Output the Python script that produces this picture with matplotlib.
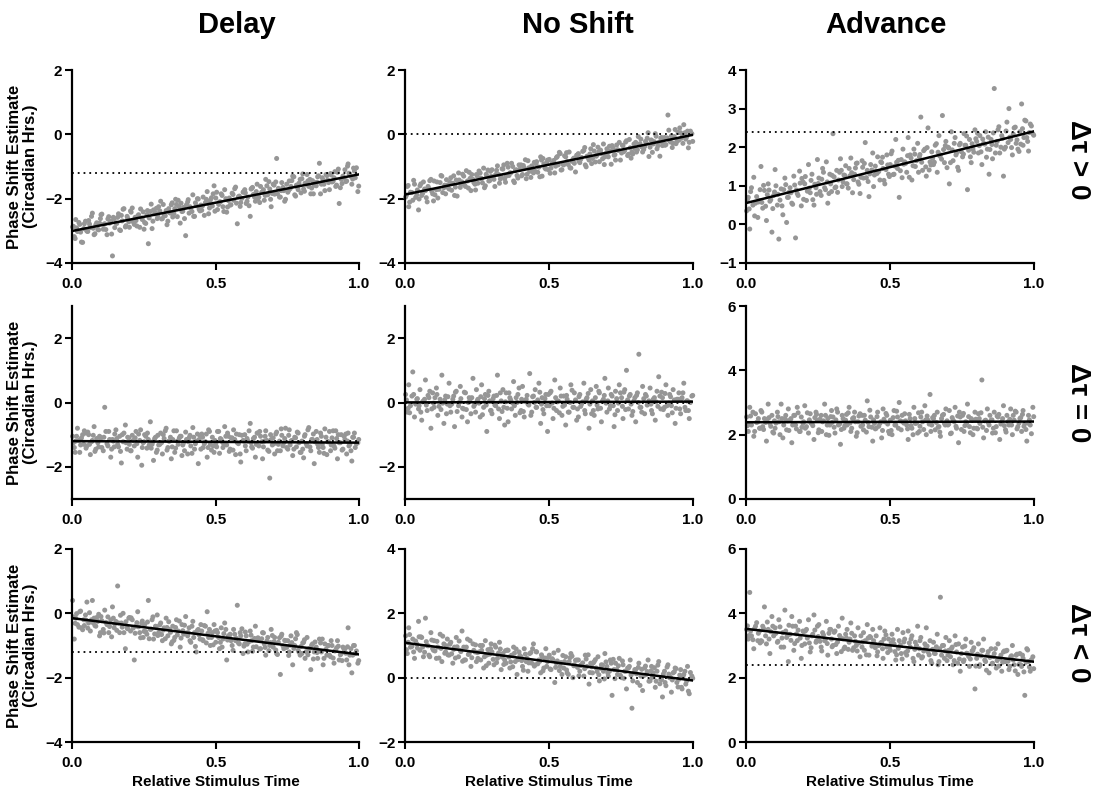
import numpy as np
import matplotlib
matplotlib.use("Agg")
import matplotlib.pyplot as plt

plt.rcParams['font.family'] = ['Liberation Sans', 'DejaVu Sans']
plt.rcParams['font.weight'] = 'bold'

col_titles = ["Delay", "No Shift", "Advance"]
row_labels = ["Δτ > 0", "Δτ = 0", "Δτ < 0"]
x_label = "Relative Stimulus Time"
y_label = "Phase Shift Estimate\n(Circadian Hrs.)"
x_ticks = [0.0, 0.5, 1.0]
x_ticklabels = ["0.0", "0.5", "1.0"]

# reference (no-change) level for each column
ref_levels = [-1.2, 0.0, 2.4]

# y-axis limits and ticks per panel (row, col)
y_limits = [[(-4, 2), (-4, 2), (-1, 4)],
            [(-3, 3), (-3, 3), (0, 6)],
            [(-4, 2), (-2, 4), (0, 6)]]
y_ticks = [[[-4, -2, 0, 2], [-4, -2, 0, 2], [-1, 0, 1, 2, 3, 4]],
           [[-2, 0, 2], [-2, 0, 2], [0, 2, 4, 6]],
           [[-4, -2, 0, 2], [-2, 0, 2, 4], [0, 2, 4, 6]]]

# relative stimulus times, first batch
x_time_a = [
    0.002, 0.008, 0.013, 0.019, 0.027, 0.033, 0.041, 0.047,
    0.052, 0.058, 0.064, 0.071, 0.077, 0.083, 0.090, 0.096,
    0.101, 0.109, 0.114, 0.122, 0.128, 0.135, 0.141, 0.147,
    0.153, 0.159, 0.166, 0.172, 0.178, 0.186, 0.192, 0.198,
    0.204, 0.210, 0.217, 0.223, 0.229, 0.236, 0.243, 0.248,
    0.253, 0.261, 0.266, 0.273, 0.279, 0.284, 0.291, 0.297,
    0.302, 0.309, 0.315, 0.321, 0.328, 0.334, 0.340, 0.346,
    0.351, 0.358, 0.364, 0.370, 0.377, 0.383, 0.389, 0.396,
    0.403, 0.408, 0.414, 0.421, 0.427, 0.433, 0.440, 0.446,
    0.452, 0.457, 0.465, 0.471, 0.476, 0.482, 0.489, 0.495,
    0.501, 0.507, 0.514, 0.520, 0.526, 0.532, 0.539, 0.545,
    0.551, 0.558, 0.563, 0.570, 0.576, 0.583, 0.588, 0.596,
    0.602, 0.607, 0.613, 0.621, 0.626, 0.632, 0.639, 0.645,
    0.651, 0.657, 0.664, 0.670, 0.675, 0.682, 0.689, 0.694,
    0.701, 0.706, 0.713, 0.719, 0.726, 0.731, 0.738, 0.744,
    0.752, 0.757, 0.763, 0.769, 0.776, 0.782, 0.788, 0.795,
    0.801, 0.807, 0.812, 0.819, 0.825, 0.832, 0.838, 0.844,
    0.851, 0.856, 0.862, 0.869, 0.875, 0.881, 0.888, 0.894,
    0.901, 0.906, 0.913, 0.919, 0.925, 0.931, 0.938, 0.944,
    0.951, 0.957, 0.962, 0.968, 0.975, 0.981, 0.987, 0.996]

# relative stimulus times, second batch
x_time_b = [
    0.005, 0.011, 0.016, 0.024, 0.030, 0.037, 0.043, 0.049,
    0.055, 0.061, 0.068, 0.074, 0.080, 0.086, 0.093, 0.099,
    0.104, 0.111, 0.118, 0.125, 0.131, 0.138, 0.144, 0.149,
    0.156, 0.162, 0.169, 0.175, 0.181, 0.188, 0.194, 0.200,
    0.206, 0.213, 0.220, 0.226, 0.232, 0.239, 0.245, 0.251,
    0.257, 0.263, 0.269, 0.276, 0.282, 0.288, 0.294, 0.299,
    0.306, 0.312, 0.318, 0.325, 0.331, 0.337, 0.343, 0.349,
    0.355, 0.361, 0.367, 0.374, 0.380, 0.386, 0.392, 0.399,
    0.405, 0.411, 0.418, 0.424, 0.430, 0.437, 0.443, 0.449,
    0.455, 0.461, 0.468, 0.474, 0.479, 0.486, 0.492, 0.498,
    0.504, 0.511, 0.517, 0.523, 0.529, 0.536, 0.542, 0.548,
    0.554, 0.561, 0.567, 0.573, 0.580, 0.586, 0.592, 0.599,
    0.604, 0.610, 0.617, 0.624, 0.629, 0.636, 0.642, 0.648,
    0.654, 0.661, 0.667, 0.673, 0.679, 0.686, 0.692, 0.698,
    0.704, 0.710, 0.716, 0.723, 0.729, 0.735, 0.741, 0.748,
    0.755, 0.760, 0.766, 0.773, 0.779, 0.785, 0.791, 0.798,
    0.804, 0.810, 0.816, 0.822, 0.829, 0.835, 0.841, 0.847,
    0.854, 0.859, 0.866, 0.872, 0.878, 0.885, 0.891, 0.897,
    0.903, 0.910, 0.916, 0.922, 0.928, 0.935, 0.941, 0.948,
    0.954, 0.960, 0.965, 0.972, 0.978, 0.984, 0.991, 0.999]

# ---------------- Δτ > 0 ----------------
delay_pos_a = [
    -2.88, -3.18, -2.65, -3.02, -2.80, -3.35, -2.93, -2.70,
    -3.01, -2.68, -2.90, -2.45, -3.12, -2.81, -2.96, -2.76,
    -2.50, -2.95, -2.78, -3.12, -2.56, -2.70, -3.78, -2.62,
    -2.75, -2.58, -2.97, -2.52, -2.33, -2.88, -2.55, -2.72,
    -2.38, -2.29, -2.80, -2.68, -2.54, -2.89, -2.60, -2.41,
    -2.74, -2.50, -3.40, -2.40, -2.93, -2.35, -2.44, -2.62,
    -2.25, -2.08, -2.62, -2.51, -2.37, -2.70, -2.43, -2.19,
    -2.57, -2.31, -2.18, -2.05, -2.76, -2.40, -2.27, -3.15,
    -2.10, -2.45, -2.30, -1.88, -2.55, -2.22, -2.01, -2.38,
    -2.36, -1.95, -2.12, -1.78, -2.47, -2.05, -2.23, -1.60,
    -1.98, -2.34, -2.10, -1.85, -2.25, -1.72, -2.42, -2.06,
    -2.20, -1.83, -2.05, -1.64, -2.78, -1.92, -2.12, -1.80,
    -1.72, -2.15, -1.95, -2.55, -1.68, -1.87, -2.08, -1.55,
    -1.95, -1.62, -1.80, -2.05, -1.40, -1.88, -1.70, -2.25,
    -1.55, -1.86, -0.75, -1.68, -1.95, -1.50, -1.75, -2.02,
    -1.80, -1.45, -1.62, -1.30, -1.88, -1.58, -1.72, -1.40,
    -1.38, -1.70, -1.52, -1.25, -1.62, -1.85, -1.44, -1.58,
    -1.60, -1.32, -0.90, -1.55, -1.42, -1.75, -1.28, -1.50,
    -1.22, -1.48, -1.35, -1.62, -1.18, -2.15, -1.40, -1.30,
    -1.10, -1.45, -0.92, -1.25, -1.55, -1.05, -1.35, -1.78]
delay_pos_b = [
    -2.86, -3.24, -2.91, -2.74, -3.04, -3.36, -2.78, -2.96,
    -3.02, -2.79, -2.55, -2.92, -3.09, -2.75, -2.97, -2.62,
    -2.48, -2.80, -2.96, -2.63, -2.76, -3.10, -2.58, -2.90,
    -2.77, -2.47, -2.99, -2.69, -2.31, -2.84, -2.61, -2.89,
    -2.42, -2.72, -2.58, -2.85, -2.50, -2.32, -2.65, -2.95,
    -2.77, -2.37, -2.60, -2.17, -2.70, -2.47, -2.30, -2.54,
    -2.38, -2.63, -2.18, -2.53, -2.81, -2.31, -2.45, -2.13,
    -2.46, -2.02, -2.56, -2.26, -2.14, -2.39, -2.62, -2.19,
    -2.03, -2.25, -2.40, -2.55, -2.13, -2.00, -2.33, -2.20,
    -2.22, -2.52, -2.02, -2.15, -2.29, -1.97, -1.85, -2.39,
    -1.80, -2.18, -2.10, -1.90, -2.40, -2.00, -2.26, -1.98,
    -2.19, -1.87, -1.69, -2.14, -1.94, -2.24, -1.99, -1.77,
    -1.82, -2.08, -2.22, -1.70, -1.65, -1.95, -1.78, -2.00,
    -2.12, -1.80, -1.72, -1.90, -1.60, -1.47, -2.02, -1.84,
    -1.58, -1.48, -1.85, -1.95, -1.75, -1.65, -2.08, -1.55,
    -1.74, -1.69, -1.44, -1.32, -1.92, -1.64, -1.52, -1.82,
    -1.23, -1.77, -1.55, -1.45, -1.40, -1.67, -1.85, -1.50,
    -1.49, -1.29, -1.85, -1.35, -1.55, -1.25, -1.42, -1.72,
    -1.26, -1.46, -1.16, -1.58, -1.08, -1.66, -1.53, -1.36,
    -1.47, -0.99, -1.21, -1.31, -1.39, -1.14, -1.04, -1.61]

noshift_pos_a = [
    -1.95, -1.62, -2.25, -1.80, -2.05, -1.55, -1.88, -2.35,
    -1.60, -1.90, -1.48, -1.75, -2.10, -1.68, -1.40, -1.85,
    -1.45, -1.72, -1.98, -1.50, -1.30, -1.66, -1.85, -1.58,
    -1.70, -1.35, -1.52, -1.90, -1.42, -1.20, -1.65, -1.48,
    -1.30, -1.62, -1.45, -1.18, -1.75, -1.40, -1.55, -1.25,
    -1.52, -1.20, -1.38, -1.05, -1.60, -1.30, -1.45, -1.15,
    -1.10, -1.40, -1.25, -0.98, -1.52, -1.32, -1.08, -1.38,
    -1.30, -1.02, -1.20, -0.90, -1.45, -1.12, -1.28, -0.95,
    -0.95, -1.25, -1.05, -1.38, -0.82, -1.15, -0.98, -1.20,
    -1.15, -0.85, -1.02, -0.70, -1.30, -0.92, -1.08, -0.80,
    -0.78, -1.05, -0.90, -1.20, -0.72, -0.95, -0.60, -1.10,
    -0.95, -0.70, -0.85, -0.55, -1.05, -0.78, -0.90, -0.65,
    -0.60, -0.88, -0.72, -0.50, -0.95, -0.68, -0.80, -0.45,
    -0.75, -0.52, -0.68, -0.40, -0.85, -0.60, -0.30, -0.70,
    -0.45, -0.70, -0.52, -0.35, -0.65, -0.80, -0.48, -0.25,
    -0.58, -0.35, -0.50, -0.20, -0.62, -0.42, -0.55, -0.30,
    -0.25, -0.48, -0.32, -0.15, -0.55, -0.38, -0.28, 0.05,
    -0.40, -0.18, -0.30, 0.02, -0.45, -0.25, -0.12, -0.35,
    -0.10, -0.32, 0.60, -0.20, -0.05, -0.28, 0.15, -0.22,
    -0.18, 0.05, -0.08, 0.30, -0.15, 0.10, -0.25, 0.02]
noshift_pos_b = [
    -1.89, -1.59, -2.11, -1.81, -1.43, -1.96, -1.73, -2.01,
    -1.54, -1.84, -1.70, -1.97, -1.62, -1.44, -1.77, -2.07,
    -1.88, -1.48, -1.71, -1.28, -1.81, -1.58, -1.41, -1.65,
    -1.49, -1.74, -1.29, -1.64, -1.92, -1.42, -1.56, -1.24,
    -1.57, -1.13, -1.67, -1.37, -1.25, -1.50, -1.73, -1.30,
    -1.14, -1.36, -1.51, -1.66, -1.24, -1.11, -1.44, -1.31,
    -1.32, -1.62, -1.12, -1.25, -1.39, -1.07, -0.95, -1.49,
    -0.90, -1.28, -1.20, -1.00, -1.50, -1.10, -1.36, -1.08,
    -1.29, -0.97, -0.79, -1.24, -1.04, -1.34, -1.09, -0.87,
    -0.92, -1.18, -1.32, -0.80, -0.75, -1.05, -0.88, -1.10,
    -1.21, -0.89, -0.81, -0.99, -0.69, -0.56, -1.11, -0.93,
    -0.67, -0.57, -0.94, -1.04, -0.84, -0.74, -1.17, -0.64,
    -0.83, -0.78, -0.53, -0.41, -1.01, -0.73, -0.61, -0.91,
    -0.32, -0.86, -0.64, -0.54, -0.49, -0.76, -0.94, -0.59,
    -0.57, -0.37, -0.93, -0.43, -0.63, -0.33, -0.50, -0.80,
    -0.34, -0.54, -0.24, -0.66, -0.16, -0.74, -0.61, -0.44,
    -0.55, -0.07, -0.29, -0.39, -0.47, -0.22, -0.12, -0.69,
    -0.18, -0.56, -0.23, -0.06, -0.36, -0.68, -0.10, -0.28,
    -0.34, -0.11, 0.13, -0.24, -0.41, -0.07, -0.29, 0.06,
    0.20, -0.12, -0.28, 0.05, -0.08, -0.42, 0.10, -0.22]

advance_pos_a = [
    0.35, 0.70, -0.12, 0.95, 1.22, 0.55, 0.18, 0.62,
    1.50, 0.42, 0.88, 0.10, 1.05, 0.60, -0.20, 0.75,
    1.42, 0.50, -0.38, 0.92, 0.25, 1.20, 0.05, 0.70,
    0.95, 0.55, 1.25, -0.35, 0.80, 1.38, 0.48, 1.10,
    1.05, 0.62, 1.55, 0.82, 1.30, 0.50, 0.95, 1.68,
    1.20, 0.75, 1.45, 0.95, 1.62, 0.55, 1.30, 0.85,
    2.35, 0.95, 1.40, 1.15, 1.70, 0.98, 1.28, 1.52,
    1.05, 1.45, 1.72, 0.82, 1.30, 1.58, 1.10, 0.80,
    1.65, 1.20, 2.12, 1.40, 0.72, 1.55, 1.85, 1.28,
    1.38, 1.75, 1.15, 1.60, 1.45, 1.05, 1.80, 1.30,
    1.55, 1.90, 1.30, 2.20, 1.45, 0.70, 1.68, 1.95,
    1.62, 1.35, 2.25, 1.80, 1.15, 1.95, 1.50, 2.10,
    1.75, 2.78, 1.40, 1.95, 1.25, 2.50, 1.62, 1.88,
    1.55, 2.05, 1.35, 2.30, 1.80, 2.82, 1.60, 2.15,
    2.00, 1.05, 2.40, 1.65, 2.25, 1.85, 1.40, 2.10,
    1.75, 2.35, 2.05, 0.90, 2.20, 1.60, 1.95, 2.45,
    2.15, 1.85, 2.30, 1.55, 2.10, 2.40, 1.95, 1.30,
    2.20, 1.70, 3.52, 2.05, 2.45, 1.85, 2.30, 1.25,
    2.00, 2.65, 3.00, 2.20, 1.80, 2.50, 2.10, 1.95,
    2.40, 3.12, 2.05, 2.70, 2.25, 1.90, 2.60, 2.35]
advance_pos_b = [
    0.65, 0.40, 0.85, 0.50, 0.22, 0.72, 0.58, 0.90,
    0.57, 1.01, 0.47, 0.77, 0.89, 0.64, 0.41, 0.84,
    1.00, 0.78, 0.63, 0.48, 0.90, 1.03, 0.70, 0.83,
    0.82, 0.52, 1.02, 0.89, 0.75, 1.07, 1.19, 0.65,
    1.24, 0.86, 0.94, 1.14, 0.64, 1.04, 0.78, 1.06,
    0.85, 1.17, 1.35, 0.90, 1.10, 0.80, 1.05, 1.27,
    1.23, 0.97, 0.83, 1.35, 1.40, 1.10, 1.27, 1.05,
    0.94, 1.26, 1.34, 1.16, 1.46, 1.59, 1.04, 1.22,
    1.48, 1.58, 1.21, 1.11, 1.31, 1.41, 0.98, 1.51,
    1.32, 1.37, 1.62, 1.74, 1.14, 1.42, 1.54, 1.24,
    1.83, 1.29, 1.51, 1.61, 1.66, 1.39, 1.21, 1.56,
    1.58, 1.78, 1.22, 1.72, 1.52, 1.82, 1.65, 1.35,
    1.81, 1.61, 1.91, 1.49, 1.99, 1.41, 1.54, 1.71,
    1.61, 2.09, 1.87, 1.77, 1.69, 1.94, 2.04, 1.47,
    1.98, 1.60, 1.93, 2.10, 1.80, 1.48, 2.06, 1.88,
    1.82, 2.05, 2.29, 1.92, 1.75, 2.09, 1.87, 2.22,
    2.36, 2.04, 1.88, 2.21, 2.08, 1.74, 2.26, 1.94,
    2.07, 2.37, 1.85, 2.15, 2.53, 2.00, 2.23, 1.95,
    2.42, 2.12, 2.26, 1.99, 2.34, 2.52, 2.19, 1.89,
    2.08, 2.48, 2.25, 2.68, 2.15, 2.38, 2.55, 2.31]

# ---------------- Δτ = 0 ----------------
delay_zero_a = [
    -1.05, -1.40, -1.20, -0.80, -1.55, -1.10, -1.30, -0.95,
    -1.35, -1.00, -1.62, -1.18, -0.75, -1.45, -1.25, -1.05,
    -1.10, -1.50, -0.15, -1.28, -0.90, -1.70, -1.15, -1.38,
    -0.85, -1.30, -1.05, -1.88, -1.22, -0.70, -1.45, -1.10,
    -1.50, -1.02, -1.35, -0.90, -1.70, -1.18, -1.95, -1.25,
    -1.00, -1.42, -1.15, -0.60, -1.30, -1.80, -1.08, -1.48,
    -1.32, -0.95, -1.60, -1.12, -0.80, -1.40, -1.20, -1.75,
    -1.15, -1.55, -0.88, -1.30, -1.05, -1.65, -1.25, -0.92,
    -1.60, -1.10, -1.35, -0.78, -1.45, -1.20, -1.90, -1.02,
    -0.98, -1.40, -1.22, -1.70, -0.85, -1.30, -1.08, -1.55,
    -1.28, -0.90, -1.58, -1.15, -1.40, -0.75, -1.32, -1.05,
    -1.45, -1.10, -0.85, -1.62, -1.25, -1.00, -1.85, -1.18,
    -1.00, -1.50, -1.20, -0.65, -1.38, -1.12, -1.70, -0.95,
    -1.35, -1.05, -1.75, -1.20, -0.88, -1.48, -2.35, -1.15,
    -1.10, -1.60, -0.92, -1.30, -1.50, -1.02, -1.25, -0.80,
    -1.45, -0.85, -1.20, -1.65, -1.08, -1.38, -0.95, -1.55,
    -1.20, -1.72, -1.00, -1.35, -0.78, -1.50, -1.15, -1.90,
    -0.90, -1.30, -1.55, -1.05, -1.40, -0.82, -1.62, -1.22,
    -1.50, -1.10, -1.35, -0.88, -1.75, -1.25, -1.00, -1.45,
    -1.15, -1.60, -0.95, -1.30, -1.82, -1.08, -1.40, -1.25]
delay_zero_b = [
    -1.25, -1.55, -1.05, -1.18, -1.32, -1.00, -0.88, -1.42,
    -0.92, -1.30, -1.22, -1.02, -1.52, -1.12, -1.38, -1.10,
    -1.40, -1.08, -0.90, -1.35, -1.15, -1.45, -1.20, -0.98,
    -1.12, -1.38, -1.52, -1.00, -0.95, -1.25, -1.08, -1.30,
    -1.50, -1.18, -1.10, -1.28, -0.98, -0.85, -1.40, -1.22,
    -1.05, -0.95, -1.32, -1.42, -1.22, -1.12, -1.55, -1.02,
    -1.30, -1.25, -1.00, -0.88, -1.48, -1.20, -1.08, -1.38,
    -0.88, -1.42, -1.20, -1.10, -1.05, -1.32, -1.50, -1.15,
    -1.22, -1.02, -1.58, -1.08, -1.28, -0.98, -1.15, -1.45,
    -1.08, -1.28, -0.98, -1.40, -0.90, -1.48, -1.35, -1.18,
    -1.38, -0.90, -1.12, -1.22, -1.30, -1.05, -0.95, -1.52,
    -1.10, -1.48, -1.15, -0.98, -1.28, -1.60, -1.02, -1.20,
    -1.35, -1.12, -0.88, -1.25, -1.42, -1.08, -1.30, -0.95,
    -0.90, -1.22, -1.38, -1.05, -1.18, -1.52, -1.00, -1.32,
    -1.28, -0.98, -1.50, -1.20, -0.82, -1.35, -1.12, -1.40,
    -1.02, -1.32, -1.18, -1.45, -1.10, -0.92, -1.25, -1.55,
    -1.45, -1.05, -1.28, -0.85, -1.38, -1.15, -0.98, -1.22,
    -1.15, -1.40, -0.95, -1.30, -1.58, -1.08, -1.22, -0.90,
    -1.32, -0.88, -1.42, -1.12, -1.00, -1.25, -1.48, -1.05,
    -0.98, -1.20, -1.35, -1.50, -1.08, -0.95, -1.28, -1.15]

noshift_zero_a = [
    0.25, -0.30, 0.55, -0.10, 0.95, -0.45, 0.10, -0.20,
    0.40, -0.55, 0.05, 0.70, -0.25, 0.15, -0.80, 0.30,
    -0.15, 0.45, -0.40, 0.10, 0.85, -0.65, 0.20, -0.05,
    0.60, -0.30, 0.10, -0.75, 0.35, -0.10, 0.50, -0.45,
    -0.20, 0.30, -0.60, 0.15, -0.35, 0.75, -0.05, 0.40,
    0.10, -0.45, 0.55, -0.15, 0.25, -0.90, 0.35, -0.25,
    -0.35, 0.20, -0.10, 0.85, -0.50, 0.05, 0.40, -0.70,
    0.30, -0.60, 0.15, -0.20, 0.65, -0.40, 0.00, 0.45,
    -0.25, 0.50, -0.45, 0.10, -0.05, 0.90, -0.30, 0.20,
    0.40, -0.15, 0.60, -0.65, 0.15, -0.35, 0.25, -0.90,
    -0.10, 0.35, -0.50, 0.70, -0.25, 0.05, 0.45, -0.40,
    0.20, -0.70, 0.10, -0.30, 0.55, -0.15, 0.30, -0.55,
    -0.45, 0.25, -0.05, 0.60, -0.35, 0.15, -0.80, 0.40,
    0.05, -0.40, 0.50, -0.20, 0.30, -0.60, 0.10, 0.75,
    -0.30, 0.45, -0.10, 0.20, -0.75, 0.35, -0.25, 0.55,
    0.15, -0.50, 0.40, 1.00, -0.20, 0.25, -0.40, 0.05,
    -0.60, 0.30, 1.50, -0.15, 0.50, -0.35, 0.20, -0.05,
    0.45, -0.25, 0.10, -0.55, 0.35, 0.80, -0.20, 0.15,
    -0.15, 0.55, -0.40, 0.25, -0.10, 0.40, -0.65, 0.10,
    0.30, -0.35, 0.15, 0.60, -0.25, 0.05, -0.50, 0.20]
noshift_zero_b = [
    0.08, -0.18, -0.32, 0.20, 0.25, -0.05, 0.12, -0.10,
    -0.30, 0.02, 0.10, -0.08, 0.22, 0.35, -0.20, -0.02,
    0.15, 0.25, -0.12, -0.22, -0.02, 0.08, -0.35, 0.18,
    -0.10, -0.05, 0.20, 0.32, -0.28, 0.00, 0.12, -0.18,
    0.32, -0.22, 0.00, 0.10, 0.15, -0.12, -0.30, 0.05,
    -0.02, 0.18, -0.38, 0.12, -0.08, 0.22, 0.05, -0.25,
    0.12, -0.08, 0.22, -0.20, 0.30, -0.28, -0.15, 0.02,
    -0.18, 0.30, 0.08, -0.02, -0.10, 0.15, 0.25, -0.32,
    0.10, -0.28, 0.05, 0.22, -0.08, -0.40, 0.18, 0.00,
    -0.15, 0.08, 0.32, -0.05, -0.22, 0.12, -0.10, 0.25,
    0.30, -0.02, -0.18, 0.15, 0.02, -0.32, 0.20, -0.12,
    -0.08, 0.22, -0.30, 0.00, 0.38, -0.15, 0.08, -0.20,
    0.18, -0.12, 0.02, -0.25, 0.10, 0.28, -0.05, -0.35,
    -0.25, 0.15, -0.08, 0.35, -0.18, 0.05, 0.22, -0.02,
    0.05, -0.20, 0.25, -0.10, -0.38, 0.12, -0.02, 0.30,
    -0.12, 0.32, -0.22, 0.08, 0.20, -0.05, -0.28, 0.15,
    0.22, 0.00, -0.15, -0.30, 0.12, 0.25, -0.08, 0.05,
    -0.05, -0.35, 0.15, 0.02, -0.12, 0.20, 0.32, -0.22,
    0.28, -0.10, -0.02, 0.18, -0.32, 0.08, -0.18, 0.10,
    -0.20, 0.12, 0.30, -0.15, 0.05, -0.25, 0.00, 0.22]

advance_zero_a = [
    2.55, 2.10, 2.85, 2.30, 1.95, 2.65, 2.40, 2.20,
    2.75, 2.25, 2.50, 1.80, 2.95, 2.35, 2.60, 2.05,
    2.20, 2.70, 2.40, 2.95, 1.90, 2.50, 2.15, 2.80,
    2.45, 1.75, 2.60, 2.30, 2.85, 2.10, 2.55, 2.35,
    2.90, 2.25, 2.05, 2.65, 2.35, 1.85, 2.70, 2.45,
    2.15, 2.60, 2.40, 2.95, 2.00, 2.50, 2.30, 2.75,
    2.55, 2.05, 2.80, 2.30, 1.70, 2.60, 2.20, 2.45,
    2.30, 2.85, 2.10, 2.50, 2.70, 1.95, 2.40, 2.65,
    2.60, 2.15, 2.45, 3.05, 2.25, 2.55, 1.80, 2.35,
    2.20, 2.70, 2.35, 1.90, 2.80, 2.40, 2.60, 2.10,
    2.45, 2.00, 2.75, 2.30, 2.55, 3.00, 2.15, 2.40,
    2.65, 2.30, 1.85, 2.50, 2.20, 2.85, 2.35, 2.05,
    2.10, 2.55, 2.40, 2.90, 2.00, 2.45, 3.25, 2.30,
    2.50, 2.15, 2.70, 2.25, 1.95, 2.60, 2.35, 2.80,
    2.30, 2.75, 2.05, 2.45, 2.85, 2.20, 1.75, 2.55,
    2.60, 2.10, 2.40, 2.95, 2.25, 2.50, 2.00, 2.70,
    2.20, 2.65, 2.35, 3.70, 1.90, 2.45, 2.80, 2.30,
    2.45, 2.05, 2.70, 2.25, 2.55, 1.85, 2.40, 2.90,
    2.15, 2.60, 2.30, 2.80, 2.00, 2.45, 2.70, 2.25,
    2.50, 2.10, 2.75, 2.35, 1.80, 2.60, 2.30, 2.85]
advance_zero_b = [
    2.28, 2.33, 2.58, 2.70, 2.10, 2.38, 2.50, 2.20,
    2.70, 2.16, 2.38, 2.48, 2.53, 2.26, 2.08, 2.43,
    2.36, 2.56, 2.00, 2.50, 2.30, 2.60, 2.43, 2.13,
    2.50, 2.30, 2.60, 2.18, 2.68, 2.10, 2.23, 2.40,
    2.20, 2.68, 2.46, 2.36, 2.28, 2.53, 2.63, 2.06,
    2.48, 2.10, 2.43, 2.60, 2.30, 1.98, 2.56, 2.38,
    2.23, 2.46, 2.70, 2.33, 2.16, 2.50, 2.28, 2.63,
    2.68, 2.36, 2.20, 2.53, 2.40, 2.06, 2.58, 2.26,
    2.30, 2.60, 2.08, 2.38, 2.76, 2.23, 2.46, 2.18,
    2.56, 2.26, 2.40, 2.13, 2.48, 2.66, 2.33, 2.03,
    2.13, 2.53, 2.30, 2.73, 2.20, 2.43, 2.60, 2.36,
    2.43, 2.18, 2.63, 2.28, 2.00, 2.50, 2.36, 2.68,
    2.26, 2.70, 2.16, 2.46, 2.58, 2.33, 2.10, 2.53,
    2.60, 2.38, 2.23, 2.08, 2.50, 2.63, 2.30, 2.43,
    2.33, 2.03, 2.53, 2.40, 2.26, 2.58, 2.70, 2.16,
    2.66, 2.28, 2.36, 2.56, 2.06, 2.46, 2.20, 2.48,
    2.18, 2.50, 2.68, 2.23, 2.43, 2.13, 2.38, 2.60,
    2.46, 2.20, 2.06, 2.58, 2.63, 2.33, 2.50, 2.28,
    2.08, 2.40, 2.48, 2.30, 2.60, 2.73, 2.18, 2.36,
    2.53, 2.63, 2.26, 2.16, 2.36, 2.46, 2.03, 2.56]

# ---------------- Δτ < 0 ----------------
delay_neg_a = [
    0.40, -0.80, -0.15, -0.35, 0.05, -0.45, -0.20, -0.05,
    0.35, -0.30, -0.55, 0.40, -0.15, -0.40, -0.25, -0.70,
    -0.10, -0.50, 0.10, -0.35, -0.60, -0.20, 0.20, -0.45,
    -0.25, 0.85, -0.60, -0.30, 0.00, -1.10, -0.45, -0.15,
    -0.55, -0.20, -1.45, -0.40, 0.05, -0.60, -0.30, -0.75,
    -0.35, -0.65, 0.40, -0.50, -0.20, -0.80, -0.40, -0.05,
    -0.60, -0.30, -0.85, -0.45, -0.15, -0.70, -0.50, -0.95,
    -0.40, -0.75, -0.20, -0.55, -1.05, -0.35, -0.65, -0.10,
    -0.70, -0.45, -0.90, -0.25, -0.60, -1.20, -0.50, -0.80,
    -0.55, -0.85, -0.40, 0.05, -0.75, -1.00, -0.60, -0.35,
    -0.90, -0.60, -1.10, -0.45, -0.80, -0.30, -1.45, -0.70,
    -0.65, -1.00, -0.50, -0.85, 0.25, -0.95, -0.70, -1.25,
    -0.95, -0.70, -1.20, -0.55, -0.85, -1.05, -0.40, -0.80,
    -0.80, -1.10, -0.60, -0.95, -1.30, -0.75, -1.00, -0.50,
    -1.05, -0.75, -1.25, -0.90, -1.90, -0.65, -1.10, -0.85,
    -0.85, -1.20, -0.70, -1.60, -1.00, -0.60, -1.15, -1.30,
    -1.25, -0.90, -1.40, -0.75, -1.10, -1.75, -0.95, -1.20,
    -1.05, -1.40, -0.80, -1.20, -1.60, -0.95, -1.30, -1.00,
    -1.35, -1.00, -1.55, -1.15, -0.85, -1.45, -1.25, -1.05,
    -1.10, -1.45, -0.45, -1.30, -1.85, -1.00, -1.25, -1.55]
delay_neg_b = [
    -0.11, -0.31, -0.01, -0.43, 0.07, -0.51, -0.38, -0.21,
    -0.46, 0.02, -0.20, -0.30, -0.38, -0.13, -0.03, -0.60,
    -0.23, -0.61, -0.28, -0.11, -0.41, -0.73, -0.15, -0.33,
    -0.53, -0.30, -0.06, -0.43, -0.60, -0.26, -0.48, -0.13,
    -0.14, -0.46, -0.62, -0.29, -0.42, -0.76, -0.24, -0.56,
    -0.57, -0.27, -0.79, -0.49, -0.11, -0.64, -0.41, -0.69,
    -0.36, -0.66, -0.52, -0.79, -0.44, -0.26, -0.59, -0.89,
    -0.84, -0.44, -0.67, -0.24, -0.77, -0.54, -0.37, -0.61,
    -0.60, -0.85, -0.40, -0.75, -1.03, -0.53, -0.67, -0.35,
    -0.82, -0.38, -0.92, -0.62, -0.50, -0.75, -0.98, -0.55,
    -0.53, -0.75, -0.90, -1.05, -0.63, -0.50, -0.83, -0.70,
    -0.85, -1.15, -0.65, -0.78, -0.92, -0.60, -0.48, -1.02,
    -0.58, -0.96, -0.88, -0.68, -1.18, -0.78, -1.04, -0.76,
    -1.11, -0.79, -0.61, -1.06, -0.86, -1.16, -0.91, -0.69,
    -0.88, -1.14, -1.28, -0.76, -0.71, -1.01, -0.84, -1.06,
    -1.31, -0.99, -0.91, -1.09, -0.79, -0.66, -1.21, -1.03,
    -0.92, -0.82, -1.19, -1.29, -1.09, -0.99, -1.42, -0.89,
    -1.22, -1.17, -0.92, -0.80, -1.40, -1.12, -1.00, -1.30,
    -0.85, -1.39, -1.17, -1.07, -1.02, -1.29, -1.47, -1.12,
    -1.24, -1.04, -1.60, -1.10, -1.30, -1.00, -1.17, -1.47]

noshift_neg_a = [
    1.30, 0.75, 1.55, 0.95, 1.20, 0.60, 1.05, 1.75,
    0.85, 1.25, 0.65, 1.85, 1.00, 0.70, 1.40, 0.90,
    1.15, 0.60, 0.95, 1.35, 0.50, 1.05, 0.80, 1.20,
    0.70, 1.10, 0.45, 0.95, 1.25, 0.65, 0.85, 1.45,
    0.95, 0.55, 1.20, 0.75, 0.35, 1.05, 0.80, 0.50,
    0.60, 1.00, 0.85, 0.30, 1.15, 0.70, 0.45, 0.90,
    0.80, 0.40, 0.95, 0.60, 1.10, 0.25, 0.75, 0.55,
    0.45, 0.85, 0.30, 0.70, 0.95, 0.50, 0.10, 0.80,
    0.65, 0.35, 0.90, 0.50, 0.20, 0.75, 0.45, 1.05,
    0.40, 0.80, 0.55, 0.15, 0.65, 0.30, 0.90, 0.50,
    0.70, 0.25, 0.55, -0.15, 0.45, 0.85, 0.35, 0.10,
    0.30, 0.65, 0.15, 0.50, 0.75, 0.00, 0.40, 0.55,
    0.55, 0.20, 0.40, 0.05, 0.70, 0.35, -0.20, 0.45,
    0.15, 0.50, 0.30, 0.65, -0.10, 0.40, 0.20, 0.75,
    0.35, 0.05, 0.55, -0.55, 0.25, 0.45, 0.10, 0.60,
    0.00, 0.40, 0.20, -0.35, 0.30, 0.55, -0.95, 0.15,
    0.25, -0.15, 0.45, 0.05, -0.40, 0.30, 0.10, 0.55,
    -0.10, 0.35, 0.15, -0.30, 0.20, 0.50, -0.05, -0.60,
    0.20, -0.25, 0.40, 0.00, -0.45, 0.15, 0.30, -0.15,
    -0.05, 0.25, -0.35, 0.10, -0.20, 0.35, -0.50, 0.05]
noshift_neg_b = [
    0.87, 1.10, 1.34, 0.97, 0.80, 1.14, 0.92, 1.27,
    1.27, 0.95, 0.79, 1.12, 0.99, 0.65, 1.17, 0.85,
    0.83, 1.13, 0.61, 0.91, 1.29, 0.76, 0.99, 0.71,
    1.04, 0.74, 0.88, 0.61, 0.96, 1.14, 0.81, 0.51,
    0.55, 0.95, 0.72, 1.15, 0.62, 0.85, 1.02, 0.78,
    0.80, 0.55, 1.00, 0.65, 0.37, 0.87, 0.73, 1.05,
    0.57, 1.01, 0.47, 0.77, 0.89, 0.64, 0.41, 0.84,
    0.86, 0.64, 0.49, 0.34, 0.76, 0.89, 0.56, 0.69,
    0.53, 0.23, 0.73, 0.60, 0.46, 0.78, 0.90, 0.36,
    0.81, 0.43, 0.51, 0.71, 0.21, 0.61, 0.35, 0.63,
    0.27, 0.59, 0.77, 0.32, 0.52, 0.22, 0.47, 0.69,
    0.50, 0.24, 0.10, 0.62, 0.67, 0.37, 0.54, 0.32,
    0.06, 0.38, 0.46, 0.28, 0.58, 0.71, 0.16, 0.34,
    0.46, 0.56, 0.19, 0.09, 0.29, 0.39, -0.04, 0.49,
    0.15, 0.20, 0.45, 0.57, -0.03, 0.25, 0.37, 0.07,
    0.52, -0.02, 0.20, 0.30, 0.35, 0.08, -0.10, 0.25,
    0.12, 0.32, -0.24, 0.26, 0.06, 0.36, 0.19, -0.11,
    0.21, 0.01, 0.31, -0.11, 0.39, -0.19, -0.06, 0.11,
    -0.15, 0.33, 0.11, 0.01, -0.07, 0.18, 0.28, -0.29,
    0.08, -0.30, 0.03, 0.20, -0.10, -0.42, 0.16, -0.02]

advance_neg_a = [
    3.50, 3.20, 4.65, 3.30, 2.90, 3.60, 3.15, 3.45,
    3.15, 3.60, 4.20, 3.05, 3.50, 2.75, 3.90, 3.30,
    3.55, 3.10, 3.80, 2.95, 3.40, 4.10, 3.25, 2.50,
    3.35, 3.90, 2.85, 3.60, 3.15, 3.75, 2.60, 3.45,
    3.05, 3.50, 3.80, 2.80, 3.30, 3.95, 3.10, 3.60,
    3.65, 2.95, 3.40, 3.15, 3.75, 2.70, 3.50, 3.20,
    3.00, 3.45, 2.75, 3.60, 3.25, 3.85, 2.90, 3.35,
    3.50, 3.10, 3.70, 2.85, 3.30, 3.00, 3.55, 2.65,
    2.95, 3.40, 3.15, 3.65, 2.70, 3.25, 3.50, 3.05,
    3.30, 2.80, 3.55, 3.10, 2.60, 3.45, 2.95, 3.20,
    2.85, 3.35, 3.05, 2.55, 3.50, 3.15, 2.75, 3.40,
    3.20, 2.70, 3.45, 2.95, 3.30, 2.50, 3.10, 3.60,
    2.90, 3.25, 2.65, 3.05, 3.55, 2.80, 3.15, 2.45,
    3.10, 2.75, 3.35, 2.50, 4.50, 3.00, 2.60, 3.25,
    2.70, 3.15, 2.90, 2.40, 3.30, 2.80, 3.05, 2.20,
    2.95, 2.55, 3.20, 2.75, 2.35, 3.10, 2.85, 1.65,
    2.60, 3.05, 2.40, 2.85, 3.20, 2.50, 2.70, 2.15,
    2.90, 2.45, 2.75, 2.30, 3.05, 2.60, 2.20, 2.80,
    2.50, 2.85, 2.25, 2.65, 3.00, 2.40, 2.70, 2.10,
    2.75, 2.35, 2.60, 1.45, 2.90, 2.50, 2.20, 2.65]
advance_neg_b = [
    3.61, 3.31, 3.45, 3.18, 3.53, 3.71, 3.38, 3.08,
    3.13, 3.53, 3.30, 3.73, 3.20, 3.43, 3.60, 3.36,
    3.38, 3.13, 3.58, 3.23, 2.95, 3.45, 3.31, 3.63,
    3.16, 3.60, 3.06, 3.36, 3.48, 3.23, 3.00, 3.43,
    3.45, 3.23, 3.08, 2.93, 3.35, 3.48, 3.15, 3.28,
    3.13, 2.83, 3.33, 3.20, 3.06, 3.38, 3.50, 2.96,
    3.41, 3.03, 3.11, 3.31, 2.81, 3.21, 2.95, 3.23,
    2.88, 3.20, 3.38, 2.93, 3.13, 2.83, 3.08, 3.30,
    3.11, 2.85, 2.71, 3.23, 3.28, 2.98, 3.15, 2.93,
    2.68, 3.00, 3.08, 2.90, 3.20, 3.33, 2.78, 2.96,
    3.08, 3.18, 2.81, 2.71, 2.91, 3.01, 2.58, 3.11,
    2.78, 2.83, 3.08, 3.20, 2.60, 2.88, 3.00, 2.70,
    3.15, 2.61, 2.83, 2.93, 2.98, 2.71, 2.53, 2.88,
    2.76, 2.96, 2.40, 2.90, 2.70, 3.00, 2.83, 2.53,
    2.85, 2.65, 2.95, 2.53, 3.03, 2.45, 2.58, 2.75,
    2.50, 2.98, 2.76, 2.66, 2.58, 2.83, 2.93, 2.36,
    2.73, 2.35, 2.68, 2.85, 2.55, 2.23, 2.81, 2.63,
    2.43, 2.66, 2.90, 2.53, 2.36, 2.70, 2.48, 2.83,
    2.83, 2.51, 2.35, 2.68, 2.55, 2.21, 2.73, 2.41,
    2.40, 2.70, 2.18, 2.48, 2.86, 2.33, 2.56, 2.28]

series = [[(delay_pos_a, delay_pos_b), (noshift_pos_a, noshift_pos_b), (advance_pos_a, advance_pos_b)],
          [(delay_zero_a, delay_zero_b), (noshift_zero_a, noshift_zero_b), (advance_zero_a, advance_zero_b)],
          [(delay_neg_a, delay_neg_b), (noshift_neg_a, noshift_neg_b), (advance_neg_a, advance_neg_b)]]

W, H = 1096, 788
fig = plt.figure(figsize=(W / 100, H / 100), dpi=100)

col_px = [(72, 359), (405, 693), (746, 1034)]
row_px = [(70, 263), (306, 499), (549, 742)]

x_all = np.concatenate([x_time_a, x_time_b])
point_color = "#969696"

for r in range(3):
    for c in range(3):
        x0, x1 = col_px[c]
        y0, y1 = row_px[r]
        ax = fig.add_axes([x0 / W, 1 - y1 / H, (x1 - x0) / W, (y1 - y0) / H])
        ya, yb = series[r][c]
        y = np.concatenate([ya, yb])
        ax.scatter(x_all, y, s=13, color=point_color, edgecolors='none', zorder=2, clip_on=False)
        slope, icpt = np.polyfit(x_all, y, 1)
        xl = np.array([0.0, 1.0])
        ax.plot(xl, icpt + slope * xl, color='black', lw=1.8, zorder=3)
        ax.plot(xl, [ref_levels[c]] * 2, color='black', lw=1.3, ls=(0, (1, 2.2)), zorder=3)
        ax.set_xlim(0, 1.0)
        ax.set_ylim(*y_limits[r][c])
        ax.set_yticks(y_ticks[r][c])
        ax.set_xticks(x_ticks)
        ax.set_xticklabels(x_ticklabels)
        for s in ['top', 'right']:
            ax.spines[s].set_visible(False)
        for s in ['left', 'bottom']:
            ax.spines[s].set_linewidth(1.6)
        ax.tick_params(direction='out', length=5, width=1.5, labelsize=11)
        ax.tick_params(axis='x', pad=5)
        ax.tick_params(axis='y', pad=2)
        for lab in ax.get_xticklabels() + ax.get_yticklabels():
            lab.set_fontweight('bold')
        if c == 0:
            ax.set_ylabel(y_label, fontsize=12, fontweight='bold', labelpad=5, linespacing=1.05)
        if r == 2:
            ax.set_xlabel(x_label, fontsize=11, fontweight='bold', labelpad=4)

title_x = [237, 578, 886]
for c in range(3):
    fig.text(title_x[c] / W, 1 - 25 / H, col_titles[c], ha='center', va='center',
             fontsize=21, fontweight='bold')

row_y = [160, 403, 643]
for r in range(3):
    fig.text(1078 / W, 1 - row_y[r] / H, row_labels[r], ha='center', va='center',
             rotation=-90, fontsize=20, fontweight='bold')

fig.savefig("out.png", dpi=100)
